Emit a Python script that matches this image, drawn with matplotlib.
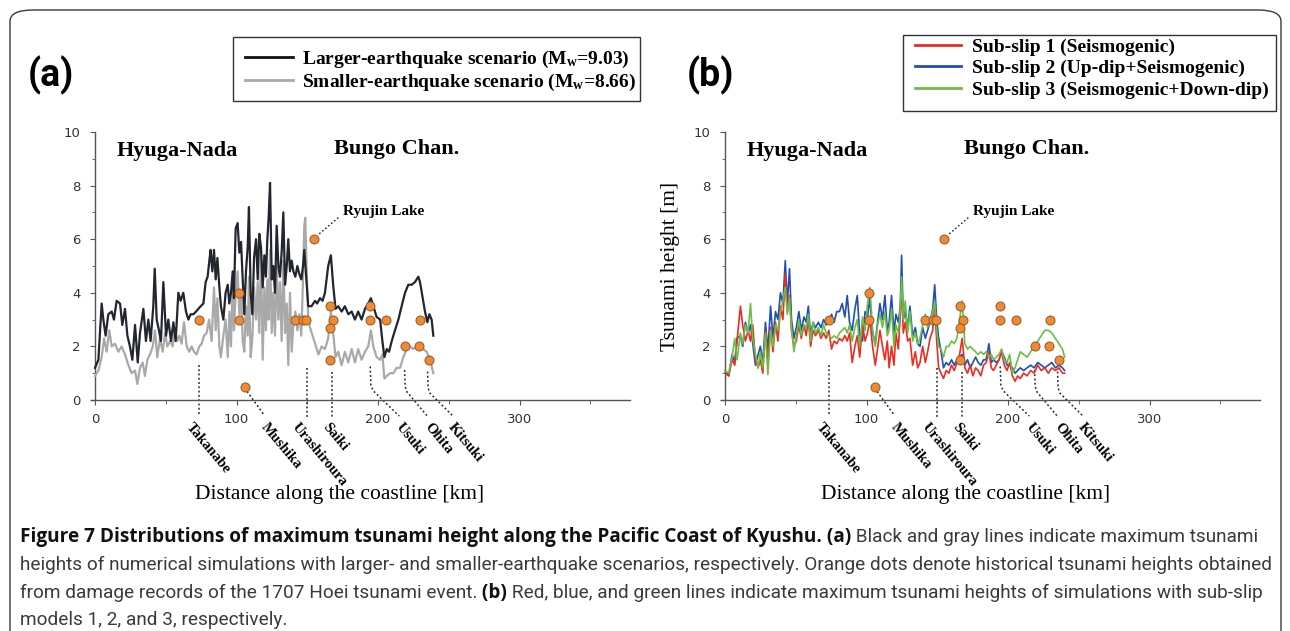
import matplotlib
matplotlib.use("Agg")
import matplotlib.pyplot as plt
from matplotlib import font_manager
from matplotlib.lines import Line2D
from matplotlib.patches import FancyBboxPatch, Rectangle
from matplotlib.ticker import MultipleLocator

# ---- data (distance km, height m) ----
dist_black = [0, 2.4, 4, 4.7, 5.9, 7.5, 9.4, 11.8, 13.4, 15.3, 17.7, 19.3, 21.2, 22.9, 24.7, 26.4, 28.3, 30.2,
              31.8, 34.2, 36, 37.7, 39.3, 41.2, 42.2, 43.6, 45.2, 46.6, 48.3, 50.2, 51.8, 53.7, 55.4, 57, 58.9,
              60.5, 62.4, 64.3, 66, 67.6, 69.5, 71.4, 73, 74.7, 76.6, 78.2, 79.6, 80.8, 81.7, 82.9, 84.1, 85.3,
              86.5, 87.9, 89, 90.7, 92.3, 93.8, 94.9, 96.1, 97.3, 98.2, 99.4, 100.8, 102, 103.2, 104.4, 105.5,
              106.7, 107.9, 108.8, 110, 111.2, 112.4, 113.8, 115, 116.1, 117.3, 118.5, 119.7, 120.8, 121.8,
              122.7, 123.7, 124.9, 126, 127.2, 128.4, 129.6, 130.7, 131.9, 133.1, 134.3, 135.5, 136.6, 137.8,
              139, 140.2, 141.6, 143, 144.4, 145.8, 147, 147.9, 149.5, 150.7, 153, 155.5, 157, 159, 160.8,
              162.5, 164.8, 166.7, 168.3, 170, 171.9, 174.3, 176.6, 179, 181.4, 183.7, 186, 188.4, 190.8,
              193.1, 195, 196.7, 199, 201.5, 203.1, 204.5, 206.2, 207.8, 209.7, 212, 214.4, 216.7, 219.1,
              221.4, 223.8, 226.1, 228.5, 229.7, 231.3, 233.2, 234.9, 236.3, 237.9, 239.1]
h_larger = [1.2, 1.5, 3.0, 3.6, 3.0, 2.4, 3.2, 3.3, 3.0, 3.7, 3.6, 2.8, 3.4, 2.4, 2.0, 1.5, 2.8, 1.4,
            2.5, 3.4, 2.2, 3.0, 2.2, 3.5, 4.9, 3.0, 2.6, 2.2, 4.4, 2.4, 3.0, 2.2, 2.9, 2.2, 4.0,
            3.7, 4.0, 3.3, 3.0, 3.2, 3.2, 3.3, 3.4, 3.5, 3.6, 4.4, 4.6, 5.2, 5.6, 4.8, 5.6, 4.5,
            5.3, 4.2, 3.5, 3.0, 4.0, 4.3, 3.6, 4.0, 4.8, 3.8, 6.4, 6.6, 5.5, 5.9, 4.5, 3.2,
            4.8, 5.7, 7.2, 4.0, 3.2, 5.3, 6.0, 4.5, 6.2, 5.7, 4.2, 5.4, 4.6, 6.0,
            6.8, 8.1, 4.5, 5.0, 4.0, 6.5, 5.0, 4.6, 5.5, 7.0, 4.3, 5.0, 6.0, 4.8,
            5.2, 4.8, 4.6, 5.0, 4.7, 4.5, 5.0, 5.6, 4.4, 3.5, 3.5, 3.7, 3.6, 3.8, 3.7,
            4.0, 5.0, 5.4, 4.3, 3.4, 3.5, 3.3, 3.5, 3.2, 3.3, 3.0, 3.3, 3.0, 3.4,
            3.6, 3.8, 3.5, 3.1, 3.0, 2.2, 1.6, 1.9, 1.8, 2.2, 2.6, 3.0, 3.5, 4.0,
            4.3, 4.3, 4.4, 4.6, 4.4, 3.9, 3.3, 2.9, 3.2, 3.0, 2.4]

dist_gray = [0, 2.4, 4.7, 6.4, 8.2, 10.1, 11.8, 14.1, 16.5, 18.8, 21.2, 23.6, 25.9, 28.3, 29.9, 31.8, 33.7,
             35.3, 37, 38.9, 40.8, 42.4, 44, 45.9, 47.8, 49.5, 51.1, 53, 54.9, 56.5, 58.2, 59.6, 61.2, 62.9,
             64.8, 66.7, 68.3, 70, 71.8, 73.7, 75.4, 77, 78.9, 80.6, 82.4, 84.1, 85.3, 86.5, 87.9, 89, 90.7,
             92.3, 93.8, 95, 96.1, 97.3, 98.2, 99.4, 100.8, 102, 103.2, 104.4, 105.5, 106.7, 107.9, 108.8,
             110, 111.2, 112.4, 113.8, 115, 116.1, 117.3, 118.5, 119.7, 120.8, 121.8, 122.7, 123.7, 124.9,
             126, 127.2, 128.4, 129.6, 130.7, 131.9, 133.1, 134.3, 135.5, 136.6, 137.8, 139, 140.2, 141.6,
             143, 144.4, 145.8, 147, 147.9, 148.6, 149.5, 150.7, 152, 155.5, 157.9, 160.2, 162.5, 164.8,
             166.7, 168.3, 170, 171.9, 174.3, 176.6, 179, 181.4, 183.7, 186, 188.4, 190.8, 193.1, 195,
             196.7, 199, 201.5, 203.1, 204.5, 206.2, 208.5, 210.9, 213.2, 215.6, 217.9, 220.3, 222.6, 225,
             227.3, 229.7, 232.1, 234.4, 236.8, 239.1]
h_smaller = [0.9, 1.1, 1.6, 2.3, 1.8, 2.6, 2.0, 2.1, 1.8, 2.0, 1.7, 1.3, 1.0, 1.1, 0.6, 1.2, 1.4,
             0.9, 1.5, 1.7, 2.0, 2.6, 1.6, 2.3, 1.8, 2.5, 2.0, 2.2, 2.0, 2.6, 2.2, 2.4, 2.1, 2.9,
             2.0, 1.8, 2.0, 1.8, 1.7, 2.0, 2.1, 2.4, 2.5, 3.0, 2.2, 4.2, 2.6, 3.8, 2.0, 1.6, 2.4,
             3.0, 1.6, 3.3, 2.0, 4.4, 2.6, 4.0, 4.8, 3.2, 4.0, 2.2, 1.8, 3.5, 2.4, 4.6,
             1.6, 2.3, 4.2, 3.0, 4.4, 2.5, 5.5, 1.5, 4.2, 2.6, 4.5, 3.0, 5.6, 2.5,
             4.0, 2.4, 5.0, 3.0, 4.4, 2.2, 5.2, 2.5, 3.6, 1.3, 4.0, 1.8, 2.8, 3.3,
             2.6, 3.2, 2.4, 4.5, 6.5, 6.8, 5.0, 3.0, 2.7, 2.1, 1.7, 2.0, 1.9, 2.3,
             3.3, 2.5, 1.6, 1.8, 1.3, 1.8, 1.4, 1.9, 1.4, 1.9, 1.5, 1.8, 2.0, 2.6,
             2.0, 1.6, 1.5, 1.7, 0.8, 0.9, 1.0, 1.0, 1.2, 1.2, 1.6, 1.9, 2.0, 1.9,
             2.0, 1.9, 1.9, 1.8, 1.5, 1.0]

dist_sub = [0, 2.6, 5, 6.9, 8.5, 10.9, 12.5, 14.4, 16.3, 18, 19.6, 21.5, 23.4, 25, 26.7, 28.6, 30.3, 32.2,
            33.9, 35.7, 37.4, 39.2, 40.9, 42.6, 44, 45.6, 47, 48.7, 50.4, 52.2, 53.9, 55.8, 57.4, 58.9, 60.5,
            62.2, 64, 66, 67.8, 69.7, 71.5, 73.4, 75.3, 77.1, 79, 80.9, 82.8, 84.7, 86.4, 88, 89.9, 91.8,
            93.5, 95.2, 97.2, 99, 100.7, 102.4, 104.3, 106.2, 107.8, 109.5, 111.3, 113, 114.7, 116, 117.7,
            119.4, 120.8, 122.5, 123.9, 124.8, 126, 127.4, 129.1, 130.7, 132.6, 134.5, 136.2, 137.8, 139.7,
            141.6, 143.2, 144.9, 146.8, 148.2, 149.6, 151, 152.7, 154.4, 156.3, 158.2, 160.1, 162, 163.9,
            165.8, 167.6, 169.5, 171.4, 173.3, 175.2, 177.1, 178.9, 180.8, 182.7, 184.6, 186.5, 188.2,
            189.8, 191.7, 193.6, 195.5, 197.4, 199.3, 201.2, 203.1, 205, 206.8, 208.7, 211, 213.5, 216,
            218.5, 221, 223.5, 226, 228.5, 231, 233.5, 236, 238.5, 240]
h_sub1 = [1.0, 0.9, 1.5, 1.3, 2.2, 3.5, 2.8, 2.2, 2.6, 2.2,
          2.8, 1.5, 1.2, 1.5, 1.0, 2.6, 1.5, 2.7, 1.8, 2.9,
          2.2, 3.5, 3.0, 4.7, 3.3, 3.9, 2.6, 2.0, 2.2, 2.8,
          2.3, 2.8, 2.4, 3.0, 2.0, 2.6, 2.4, 2.6, 2.3, 2.5,
          2.3, 2.6, 1.9, 2.2, 2.1, 2.3, 2.2, 2.4, 2.2, 2.5,
          1.4, 2.0, 2.4, 1.6, 2.8, 2.2, 2.5, 3.0, 2.0, 1.3,
          1.9, 2.6, 2.0, 1.5, 2.2, 1.2, 2.0, 1.3, 2.5, 1.9,
          3.2, 4.3, 2.5, 2.9, 2.2, 2.3, 1.3, 1.8, 1.2, 1.4,
          2.0, 1.4, 1.8, 2.3, 2.6, 3.5, 2.2, 1.2, 1.0, 0.8,
          1.1, 1.0, 1.3, 1.1, 1.4, 1.7, 2.3, 1.2, 1.0, 1.3,
          0.9, 1.2, 1.1, 0.9, 1.3, 1.4, 1.8, 1.2, 1.1, 1.3,
          1.5, 1.8, 1.3, 1.1, 1.4, 0.9, 0.7, 0.9, 0.8,
          1.0, 0.9, 1.1, 1.0, 1.3, 1.1, 1.2, 1.0, 1.2, 1.1, 1.2, 1.0, 1.0]
h_sub2 = [1.1, 0.9, 1.7, 1.4, 2.3, 2.4, 2.0, 2.9, 2.5, 2.8,
          2.1, 1.3, 1.7, 2.0, 1.4, 2.9, 1.8, 3.5, 2.3, 3.3,
          3.0, 4.0, 3.6, 5.2, 3.6, 4.9, 3.0, 2.3, 2.7, 3.3,
          2.6, 3.1, 2.9, 3.5, 2.4, 2.9, 2.7, 2.9, 2.7, 3.0,
          2.8, 2.9, 3.2, 2.9, 3.3, 3.3, 3.6, 3.1, 3.9, 2.9,
          2.6, 3.4, 3.9, 2.4, 2.2, 3.3, 3.1, 3.8, 2.5, 2.1,
          2.9, 3.6, 3.0, 3.9, 2.6, 2.9, 3.9, 2.5, 3.2, 2.9,
          3.5, 5.4, 3.0, 3.3, 2.7, 3.5, 2.4, 2.7, 2.1, 2.0,
          2.7, 2.3, 2.6, 2.9, 3.4, 4.3, 3.0, 2.3, 1.8, 1.2,
          1.4, 1.3, 1.5, 1.3, 1.5, 1.6, 1.7, 1.3, 1.5, 1.2,
          1.4, 1.6, 1.4, 1.3, 1.5, 1.5, 2.1, 1.4, 1.5, 1.4,
          1.5, 1.8, 1.6, 1.3, 1.3, 1.2, 1.0, 1.1, 1.2,
          1.1, 1.2, 1.3, 1.2, 1.4, 1.3, 1.2, 1.3, 1.4, 1.2, 1.3, 1.2, 1.1]
h_sub3 = [1.1, 1.0, 1.6, 2.3, 1.5, 2.5, 2.1, 2.8, 2.5, 3.6,
          2.3, 1.7, 1.2, 1.8, 1.2, 2.5, 0.95, 2.6, 2.0, 2.8,
          2.6, 3.3, 3.7, 4.2, 3.2, 3.8, 2.7, 1.8, 2.4, 3.0,
          2.4, 2.8, 2.7, 3.2, 2.2, 2.9, 2.5, 2.7, 2.4, 2.8,
          2.5, 2.4, 2.3, 2.4, 2.3, 2.5, 2.6, 2.7, 2.5, 2.8,
          2.2, 2.7, 3.0, 2.0, 3.1, 2.6, 3.6, 4.2, 2.6, 2.0,
          2.8, 3.2, 2.7, 3.3, 2.4, 2.6, 3.4, 2.0, 2.8, 2.5,
          3.4, 4.6, 3.0, 3.7, 2.5, 3.3, 2.2, 2.5, 2.1, 2.3,
          2.8, 3.2, 2.7, 3.0, 3.3, 3.7, 2.6, 2.0, 1.9, 1.6,
          2.0, 2.0, 2.2, 2.1, 2.3, 3.0, 3.7, 2.1, 1.9, 2.0,
          1.9, 1.8, 1.7, 1.8, 1.7, 1.8, 1.6, 1.7, 1.5, 1.6,
          1.7, 1.9, 1.5, 1.4, 1.7, 1.0, 1.2, 1.5, 1.8,
          1.7, 1.6, 1.8, 2.0, 2.2, 2.4, 2.6, 2.6, 2.5, 2.3, 2.1, 1.9, 1.6]

# historical (1707 Hoei) heights
obs_dist = [73.5, 101.5, 101.8, 106, 141.5, 147, 149, 155, 165.8, 168, 165.8, 165.8, 194.5, 194.5,
            205.5, 219, 229.3, 229.5, 236.3]
obs_h = [3.0, 4.0, 3.0, 0.5, 3.0, 3.0, 3.0, 6.0, 3.5, 3.0, 2.7, 1.5, 3.5, 3.0,
         3.0, 2.0, 2.0, 3.0, 1.5]

# place-name leaders (km, m) and label anchors
places = ["Takanabe", "Mushika", "Urashiroura", "Saiki", "Usuki", "Ohita", "Kitsuki"]
leader_x = [[73.8, 73.8], [107.5, 119.8], [149.5, 149.5], [167.5, 167.5],
            [194.5, 195.0, 196.5, 215.0], [218.8, 219.2, 220.5, 234.5], [235.0, 235.4, 236.8, 253.0]]
leader_y = [[1.3, -0.6], [0.32, -0.58], [1.2, -0.62], [1.05, -0.62],
            [1.25, 0.55, 0.35, -0.6], [1.12, 0.5, 0.3, -0.58], [1.06, 0.45, 0.25, -0.6]]
label_x = [69.5, 122.5, 144.5, 166.0, 218.0, 238.0, 254.5]
label_y = -0.78

leg_a = ["Larger-earthquake scenario (M$_\\mathbf{w}$=9.03)",
         "Smaller-earthquake scenario (M$_\\mathbf{w}$=8.66)"]
leg_b = ["Sub-slip 1 (Seismogenic)", "Sub-slip 2 (Up-dip+Seismogenic)",
         "Sub-slip 3 (Seismogenic+Down-dip)"]

SERIF = "Liberation Serif"
plt.rcParams["mathtext.fontset"] = "custom"
plt.rcParams["mathtext.rm"] = SERIF
plt.rcParams["mathtext.bf"] = SERIF + ":bold"
plt.rcParams["mathtext.it"] = SERIF + ":italic"

names = {f.name for f in font_manager.fontManager.ttflist}
CAP = "Liberation Sans Narrow" if "Liberation Sans Narrow" in names else "Roboto"
CAPB = "Open Sans" if "Open Sans" in names else CAP

W, H = 1290, 631
fig = plt.figure(figsize=(W / 100, H / 100), dpi=100)
fig.patch.set_facecolor("white")

# rounded outer frame
fig.patches.append(FancyBboxPatch((10 / W, -0.05), 1271 / W, 1 - 10 / H + 0.05,
                                  boxstyle="round,pad=0,rounding_size=0.018",
                                  transform=fig.transFigure, fill=False,
                                  edgecolor="#3a3a3a", linewidth=1.0))

ORANGE = "#F08A2E"
XMIN, XMAX = -2.5, 378


def setup(ax):
    ax.set_xlim(XMIN, XMAX)
    ax.set_ylim(0, 10)
    for s in ["top", "right"]:
        ax.spines[s].set_visible(False)
    ax.spines["left"].set_position(("data", 0))
    for s in ["left", "bottom"]:
        ax.spines[s].set_color("#555555")
        ax.spines[s].set_linewidth(1.0)
    ax.xaxis.set_major_locator(MultipleLocator(100))
    ax.xaxis.set_minor_locator(MultipleLocator(50))
    ax.yaxis.set_major_locator(MultipleLocator(2))
    ax.yaxis.set_minor_locator(MultipleLocator(1))
    ax.tick_params(axis="both", which="both", direction="out", color="#555555",
                   labelsize=9.5, labelcolor="#333333")
    ax.tick_params(axis="y", which="major", length=3.5, pad=7)
    ax.tick_params(axis="y", which="minor", length=2.5)
    ax.tick_params(axis="x", which="major", length=3.5, pad=6)
    ax.tick_params(axis="x", which="minor", length=3)
    ax.set_facecolor("none")

    ax.text(15, 9.3, "Hyuga-Nada", family=SERIF, weight="bold", fontsize=16, va="center")
    ax.text(169, 9.35, "Bungo Chan.", family=SERIF, weight="bold", fontsize=16, va="center")
    ax.text(175, 7.05, "Ryujin Lake", family=SERIF, weight="bold", fontsize=11, va="center")
    ax.plot([158.5, 173], [6.2, 6.85], color="#222222", lw=1.0, ls=(0, (1.2, 1.6)))

    for name, lx, ly, tx in zip(places, leader_x, leader_y, label_x):
        ax.plot(lx, ly, color="#222222", lw=1.1, ls=(0, (1.2, 1.6)), clip_on=False, zorder=2)
        ax.text(tx, label_y, name, family=SERIF, weight="bold", fontsize=10.5,
                rotation=-50, rotation_mode="anchor", ha="left", va="top", clip_on=False)

    ax.plot(obs_dist, obs_h, "o", color=ORANGE, markersize=6.5, markeredgecolor="#8c5a34",
            markeredgewidth=0.7, zorder=6, clip_on=False)


ax_a = fig.add_axes([(95 + XMIN * 1.415) / W, (H - 400) / H, (XMAX - XMIN) * 1.415 / W, 268 / H])
ax_b = fig.add_axes([(725 + XMIN * 1.415) / W, (H - 400) / H, (XMAX - XMIN) * 1.415 / W, 268 / H])

ax_a.plot(dist_gray, h_smaller, color="#a9a9a9", lw=1.6, zorder=3)
ax_a.plot(dist_black, h_larger, color="#23252f", lw=1.6, zorder=4)
setup(ax_a)

ax_b.plot(dist_sub, h_sub2, color="#1f4eb5", lw=1.2, zorder=3)
ax_b.plot(dist_sub, h_sub1, color="#ea2d22", lw=1.2, zorder=4)
ax_b.plot(dist_sub, h_sub3, color="#6cbd45", lw=1.2, zorder=5)
setup(ax_b)

# axis titles
fig.text(340 / W, 1 - 495 / H, "Distance along the coastline [km]", family=SERIF,
         fontsize=15.5, ha="center", va="center")
fig.text(966 / W, 1 - 495 / H, "Distance along the coastline [km]", family=SERIF,
         fontsize=15.5, ha="center", va="center")
fig.text(671 / W, 1 - 266 / H, "Tsunami height [m]", family=SERIF, fontsize=15.5,
         rotation=90, ha="center", va="center")

# panel letters
fig.text(51 / W, 1 - 75 / H, "(a)", family=[CAP, "DejaVu Sans"], weight="bold", fontsize=27,
         ha="center", va="center")
fig.text(710 / W, 1 - 75 / H, "(b)", family=[CAP, "DejaVu Sans"], weight="bold", fontsize=27,
         ha="center", va="center")

# legend frames (drawn by hand so the padding matches)
for x0, y0, x1, y1 in [(233, 37, 640, 101), (903, 35, 1276, 111)]:
    fig.patches.append(Rectangle((x0 / W, 1 - y1 / H), (x1 - x0) / W, (y1 - y0) / H,
                                 transform=fig.transFigure, fill=False,
                                 edgecolor="#333333", linewidth=1.0))

leg_font = {"family": SERIF, "weight": "bold", "size": 14}
ha = [Line2D([], [], color="#111111", lw=2.0), Line2D([], [], color="#a9a9a9", lw=2.0)]
fig.legend(ha, leg_a, loc="upper left", bbox_to_anchor=(245 / W, 1 - 49 / H), prop=leg_font,
           frameon=False, handlelength=2.45, handletextpad=0.5, labelspacing=0.1,
           borderpad=0, borderaxespad=0)
hb = [Line2D([], [], color="#ea2d22", lw=2.0), Line2D([], [], color="#1f4eb5", lw=2.0),
      Line2D([], [], color="#6cbd45", lw=2.0)]
fig.legend(hb, leg_b, loc="upper left", bbox_to_anchor=(915 / W, 1 - 38 / H), prop=leg_font,
           frameon=False, handlelength=2.35, handletextpad=0.6, labelspacing=0.2,
           borderpad=0, borderaxespad=0)

# caption with mixed weights
cap_lines = [
    [("Figure 7 Distributions of maximum tsunami height along the Pacific Coast of Kyushu.", True),
     (" (a)", True), (" Black and gray lines indicate maximum tsunami", False)],
    [("heights of numerical simulations with larger- and smaller-earthquake scenarios, respectively. "
      "Orange dots denote historical tsunami heights obtained", False)],
    [("from damage records of the 1707 Hoei tsunami event.", False), (" (b)", True),
     (" Red, blue, and green lines indicate maximum tsunami heights of simulations with sub-slip", False)],
    [("models 1, 2, and 3, respectively.", False)],
]
cap_y = [537, 565, 593, 620]
renderer = fig.canvas.get_renderer()
for parts, yy in zip(cap_lines, cap_y):
    x = 20 / W
    for txt, bold in parts:
        fam = [CAPB, "DejaVu Sans"] if bold else [CAP, "DejaVu Sans"]
        t = fig.text(x, 1 - yy / H, txt, family=fam, fontsize=13.7,
                     weight="bold" if bold else "normal",
                     color="#111111" if bold else "#3a3a3a", va="center", ha="left")
        x += t.get_window_extent(renderer=renderer).width / W

fig.savefig("out.png", dpi=100)
